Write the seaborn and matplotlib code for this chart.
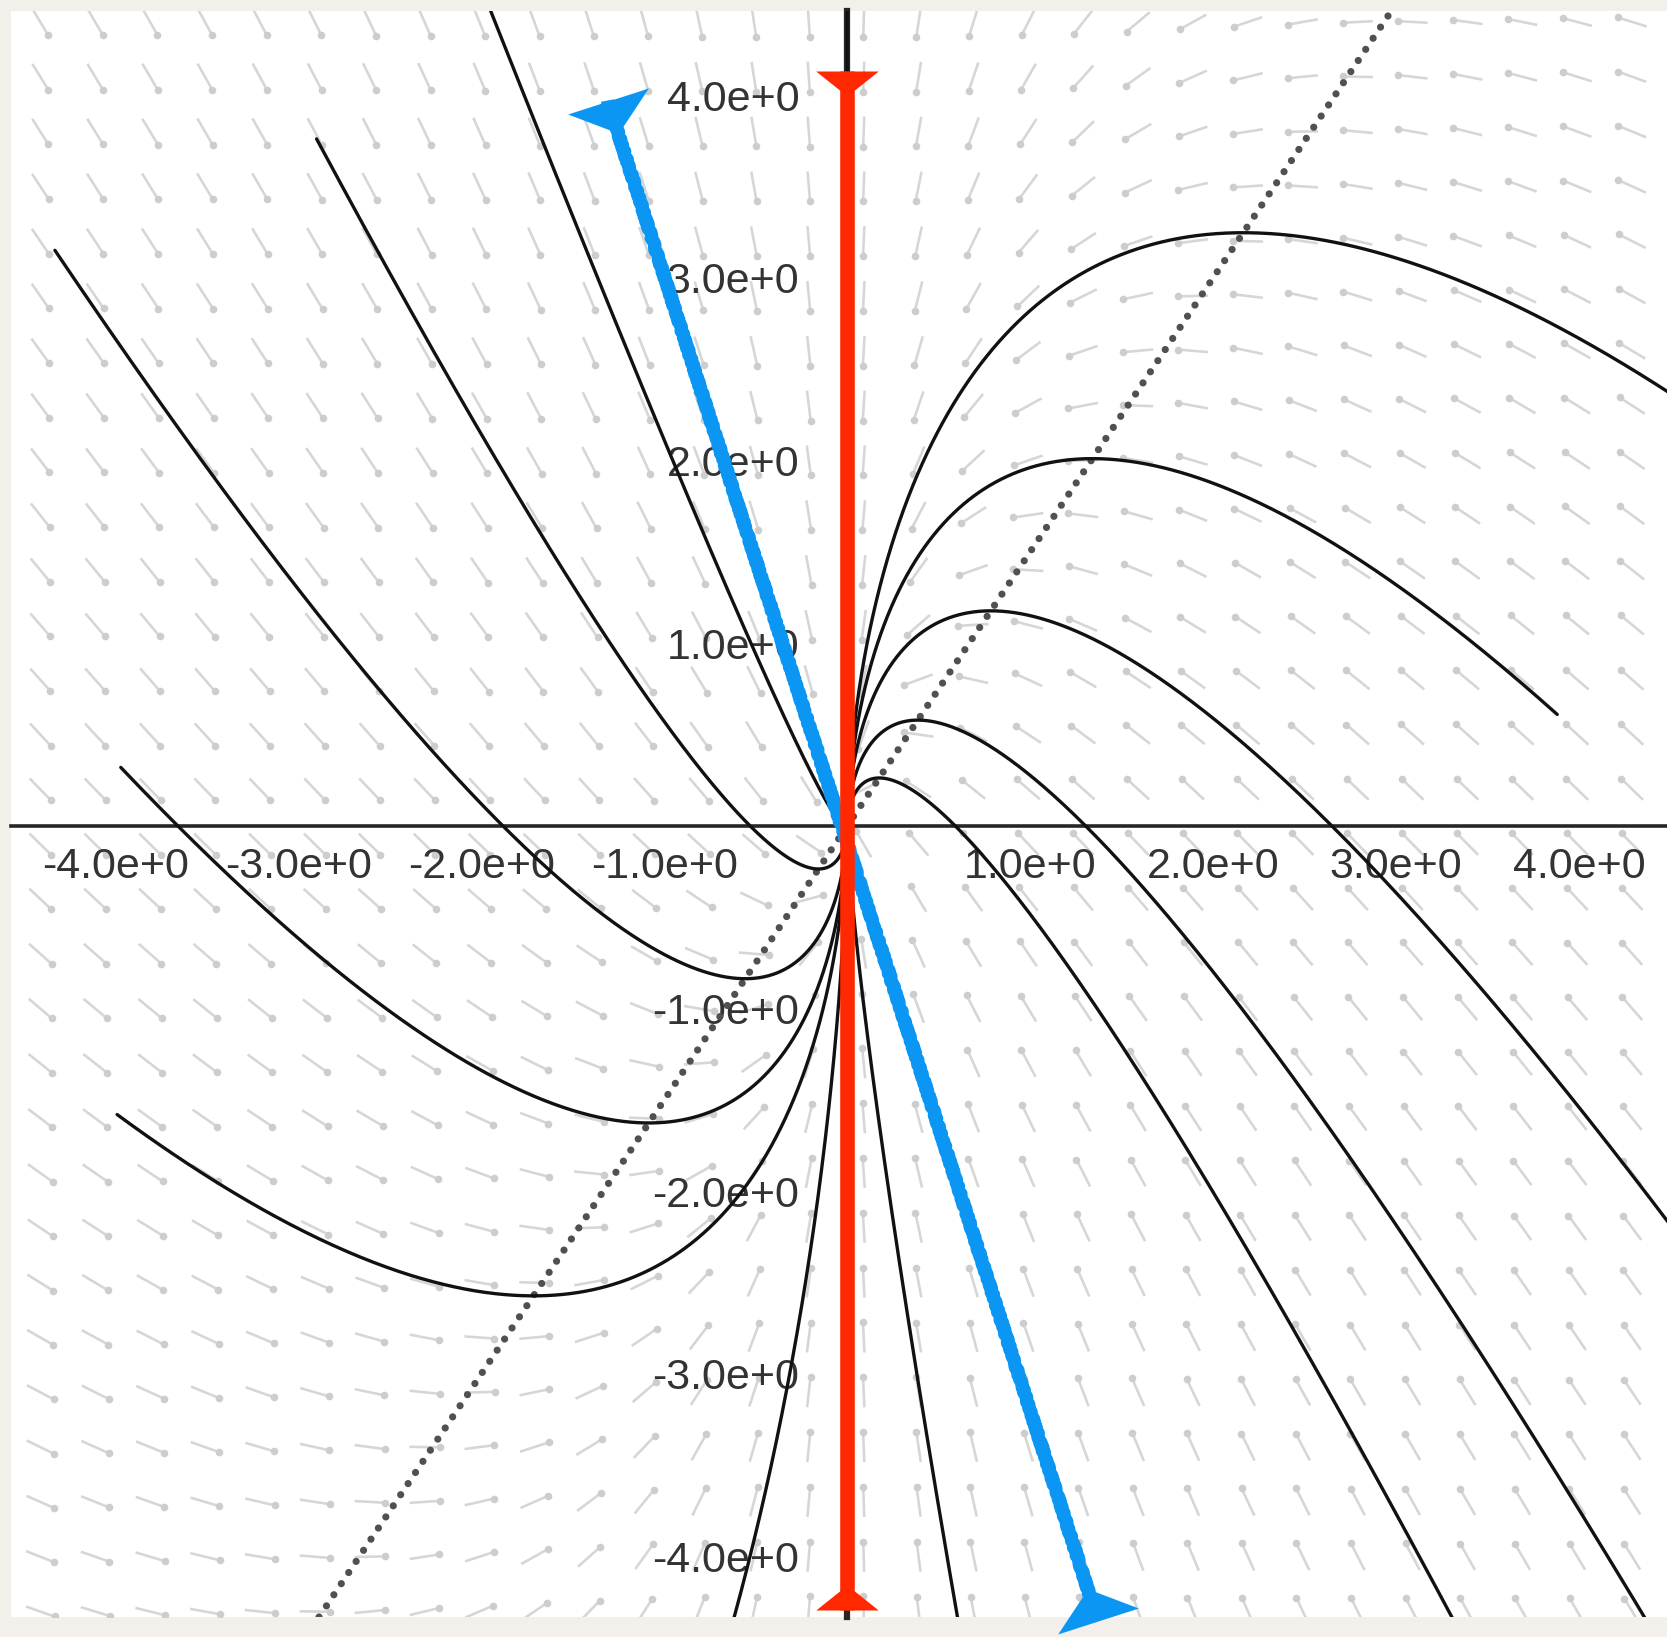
import numpy as np
import pandas as pd
import matplotlib
matplotlib.use("Agg")
import matplotlib.pyplot as plt
from matplotlib.markers import MarkerStyle
from matplotlib.path import Path
from matplotlib.transforms import Affine2D
from matplotlib.ticker import FixedLocator, FuncFormatter
import seaborn as sns

# Linear system  d/dt [x, y] = A [x, y]
system_row_x = [-3.0, 0.0]
system_row_y = [3.0, -2.0]

# Starting points of the drawn trajectories
traj_x0 = [4.60, 3.88, 4.60, 4.50, 3.40, 0.63, -2.00, -2.90, -4.33, -3.97, -3.99, -0.665, 0.0]
traj_y0 = [2.30, 0.61, -2.32, -4.57, -4.51, -4.49, 4.59, 3.76, 3.15, 0.32, -1.58, -4.50, 4.60]

# y' = 0 nullcline through the origin
nullcline_slope = 1.5

# Eigen-direction segments
red_x = [0.0, 0.0]
red_y = [4.13, -4.29]
blue_x = [-1.31, 1.37]
blue_y = [3.97, -4.35]

tick_values = [-4, -3, -2, -1, 1, 2, 3, 4]
x_limits = (-4.57, 4.48)
y_limits = (-4.33, 4.46)

# Direction-field sampling grid
field_cols = -4.41 + 0.3 * np.arange(30)
field_rows = -4.30 + 0.3 * np.arange(30)
arrow_len = 0.165

sns.set_theme(style="white")
plt.rcParams["font.family"] = ["Liberation Sans", "DejaVu Sans"]

A = np.array([system_row_x, system_row_y])

fig = plt.figure(figsize=(16.67, 16.37), dpi=100, facecolor="#f3f0eb")
ax = fig.add_axes([11 / 1667, 20 / 1637, 1656 / 1667, 1606 / 1637])
ax.set_facecolor("white")

# direction field: normalised short segments with a round head
X, Y = np.meshgrid(field_cols, field_rows)
U = A[0, 0] * X + A[0, 1] * Y
V = A[1, 0] * X + A[1, 1] * Y
N = np.hypot(U, V)
N[N == 0] = 1.0
U = U / N * arrow_len
V = V / N * arrow_len
ax.quiver(X, Y, U, V, angles="xy", scale_units="xy", scale=1, pivot="middle",
          headwidth=0, headlength=0, headaxislength=0, units="dots", width=2.6,
          color="#d6d6d6", zorder=1)
ax.scatter((X + U / 2).ravel(), (Y + V / 2).ravel(), s=30, color="#cdcdcd",
           linewidths=0, zorder=1)

# nullcline
ax.axline((0, 0), slope=nullcline_slope, color="#505050", lw=5.2,
          linestyle=(0, (0.001, 1.85)), dash_capstyle="round", zorder=1.8)

# trajectories from the exact solution of the linear system
evals, evecs = np.linalg.eig(A)
evecs_inv = np.linalg.inv(evecs)
t = np.linspace(0, 9, 4000)
frames = []
for k, (x0, y0) in enumerate(zip(traj_x0, traj_y0)):
    c = evecs_inv @ np.array([x0, y0])
    pts = evecs @ (c[:, None] * np.exp(evals[:, None] * t))
    frames.append(pd.DataFrame({"x": pts[0].real, "y": pts[1].real, "curve": k}))
traj = pd.concat(frames, ignore_index=True)
sns.lineplot(data=traj, x="x", y="y", units="curve", estimator=None, sort=False,
             color="#111111", lw=2.4, ax=ax, legend=False, zorder=3)


def wedge(angle_deg):
    verts = [(-1.0, 0.0), (1.0, 0.0), (0.0, -0.8), (-1.0, 0.0)]
    codes = [Path.MOVETO, Path.LINETO, Path.LINETO, Path.CLOSEPOLY]
    return MarkerStyle(Path(verts, codes), transform=Affine2D().rotate_deg(angle_deg))


# red eigenvector along the y axis
red = "#ff2800"
ax.plot(red_x, red_y, color=red, lw=10.5, solid_capstyle="butt", zorder=6)
ax.plot(red_x[0], red_y[0], marker=wedge(0), ms=45, color=red, mew=0, zorder=6)
ax.plot(red_x[1], red_y[1], marker=wedge(180), ms=45, color=red, mew=0, zorder=6)

# blue hand-drawn eigenvector
blue = "#0b96f4"
bl, = ax.plot(blue_x, blue_y, color=blue, lw=9.5, solid_capstyle="butt",
              solid_joinstyle="round", zorder=5)
bl.set_sketch_params(scale=0.8, length=10, randomness=4)
phi = np.degrees(np.arctan2(blue_y[1] - blue_y[0], blue_x[1] - blue_x[0]))
ax.plot(blue_x[0], blue_y[0], marker=wedge(phi + 90), ms=61, color=blue, mew=0,
        zorder=5, clip_on=False)
ax.plot(blue_x[1], blue_y[1], marker=wedge(phi + 270), ms=61, color=blue, mew=0,
        zorder=5, clip_on=False)

ax.set_xlim(*x_limits)
ax.set_ylim(*y_limits)
ax.set_xlabel("")
ax.set_ylabel("")


def sci_label(v, pos=None):
    if v == 0:
        return ""
    e = int(np.floor(np.log10(abs(v))))
    return f"{v / 10 ** e:.1f}e{e:+d}"


for axis in (ax.xaxis, ax.yaxis):
    axis.set_major_locator(FixedLocator(tick_values))
    axis.set_major_formatter(FuncFormatter(sci_label))
    axis.set_zorder(1.5)

ax.tick_params(axis="both", direction="inout", length=17, width=1.6,
               color="#222222", labelsize=31, labelcolor="#333333")
ax.tick_params(axis="x", pad=7)
ax.tick_params(axis="y", pad=26)

for side in ("top", "right"):
    ax.spines[side].set_visible(False)
ax.spines["left"].set_position(("data", 0))
ax.spines["bottom"].set_position(("data", 0))
ax.spines["left"].set_linewidth(4.5)
ax.spines["bottom"].set_linewidth(2.6)
for side in ("left", "bottom"):
    ax.spines[side].set_color("#262626")
    ax.spines[side].set_zorder(1.5)

fig.savefig("out.png", dpi=100, facecolor=fig.get_facecolor())
